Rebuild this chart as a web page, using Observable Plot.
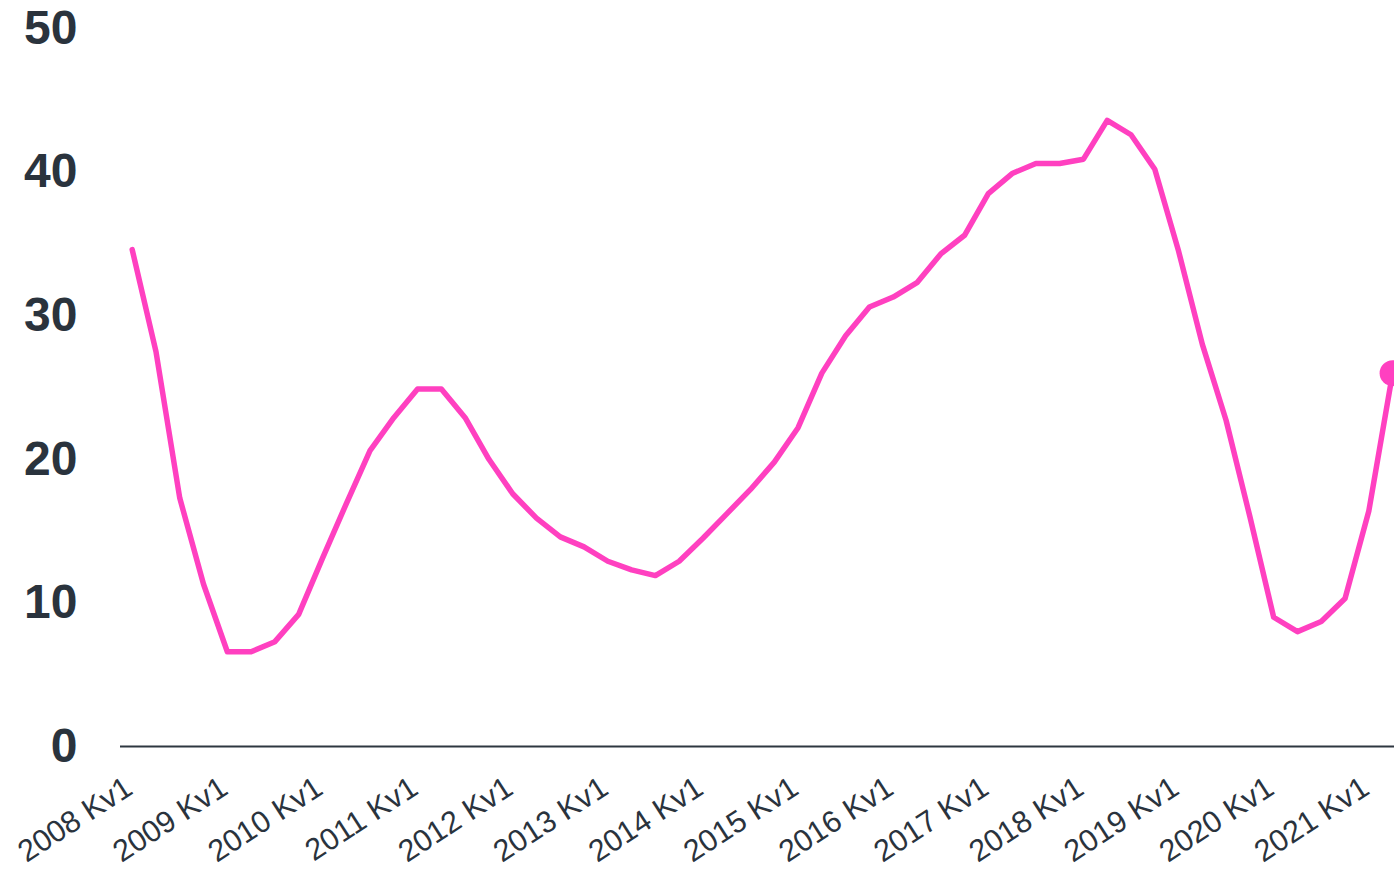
<!DOCTYPE html>
<html>
<head>
<meta charset="utf-8">
<script src="https://cdn.jsdelivr.net/npm/d3@7"></script>
<script src="https://cdn.jsdelivr.net/npm/@observablehq/plot@0.6"></script>
<style>
  html, body { margin: 0; padding: 0; background: #ffffff; overflow: hidden; }
  svg { display: block; }
</style>
</head>
<body>
<div id="chart"></div>
<script>
// Categories: quarters 2008 Kv1 .. 2021 Kv2
const years = [2008, 2009, 2010, 2011, 2012, 2013, 2014, 2015, 2016, 2017, 2018, 2019, 2020, 2021];
const quarterNames = ["Kv1", "Kv2", "Kv3", "Kv4"];
const quarters = years.flatMap(y => quarterNames.map(q => `${y} ${q}`)).slice(0, 54);

// Series values
const values = [
  34.6, 27.5, 17.3, 11.3, 6.6, 6.6, 7.3, 9.2, 13.1, 16.9,
  20.6, 22.9, 24.9, 24.9, 22.9, 20.0, 17.6, 15.9, 14.6, 13.9,
  12.9, 12.3, 11.9, 12.9, 14.5, 16.2, 17.9, 19.8, 22.2, 26.0,
  28.6, 30.6, 31.3, 32.3, 34.3, 35.6, 38.5, 39.9, 40.6, 40.6,
  40.9, 43.6, 42.6, 40.2, 34.5, 28.0, 22.7, 16.0, 9.0, 8.0,
  8.7, 10.3, 16.4, 26.0
];

// Tick labels
const xTicks = years.map(y => `${y} Kv1`);
const yTicks = [0, 10, 20, 30, 40, 50];

const data = quarters.map((q, i) => ({ q, v: values[i] }));
const last = [data[data.length - 1]];

const pink = "#ff40c0";
const ink = "#2a333d";

const chart = Plot.plot({
  width: 1394,
  height: 872,
  marginLeft: 120,
  marginRight: 0,
  marginTop: 28,
  marginBottom: 126,
  style: { fontFamily: "Liberation Sans, Arial, sans-serif", background: "#ffffff", overflow: "visible" },
  x: { type: "point", domain: quarters, range: [131.7, 1392.1], padding: 0 },
  y: { domain: [0, 50] },
  marks: [
    Plot.axisY({ ticks: yTicks, tickSize: 0, tickPadding: 43, fontSize: 48, fontWeight: "bold", fill: ink, label: null }),
    Plot.axisX({ ticks: xTicks, tickSize: 0, tickPadding: 38, tickRotate: -33, dx: -3, fontSize: 30.5, fill: ink, label: null }),
    Plot.ruleY([0], { stroke: "#2e3740", strokeWidth: 2 }),
    Plot.line(data, { x: "q", y: "v", stroke: pink, strokeWidth: 5.5 }),
    Plot.dot(last, { x: "q", y: "v", r: 13, fill: pink, stroke: "none" })
  ]
});
document.getElementById("chart").appendChild(chart);
</script>
</body>
</html>
